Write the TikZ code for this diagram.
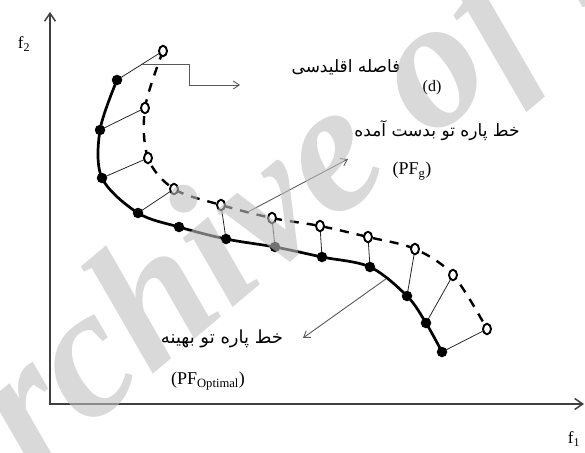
\documentclass[tikz,border=0pt]{standalone}
\usepackage{fontspec}
\setmainfont{Liberation Serif}
\newfontfamily\farsifont[Script=Arabic]{DejaVu Sans}
\TeXXeTstate=1
\usetikzlibrary{arrows.meta,calc,positioning,shapes.geometric}

\newcommand{\fatxt}[1]{{\farsifont\beginR #1\endR}}

\begin{document}
\begin{tikzpicture}[x=1pt,y=-1pt,
    optpt/.style={circle, fill=black, inner sep=0pt, minimum size=10.5pt},
    gotpt/.style={ellipse, draw=black, line width=1.9pt, fill=white, inner sep=0pt, minimum width=8pt, minimum height=10.5pt},
    link/.style={black!85, line width=0.8pt},
    callout/.style={black!65, line width=0.9pt, -{Straight Barb[length=6pt,width=8pt]}},
    fatext/.style={font=\farsifont\fontsize{17}{19}\selectfont},
    latext/.style={font=\fontsize{18}{20}\selectfont}]
    \useasboundingbox (0,0) rectangle (585,452);

    % Points of the optimal front (filled) and of the obtained front (open)
    \foreach \n/\x/\y in {1/117/80, 2/100/130, 3/102/178, 4/138/213, 5/179/227, 6/226/239,
                          7/275/247, 8/322/257, 9/370/267, 10/407/296, 11/426/323, 12/442/352}
        \coordinate (p\n) at (\x,\y);
    \foreach \n/\x/\y in {1/163/51, 2/145/108, 3/148/158, 4/174/189, 5/221/205, 6/272/218,
                          7/320/226, 8/368/237, 9/415/249, 10/453/275, 11/487/329}
        \coordinate (o\n) at (\x,\y);

    % Axes
    \coordinate (origin) at (50,404);
    \coordinate (ytip) at (50,12);
    \coordinate (xtip) at (584,404);
    \draw[black!75, line width=1.5pt, {Straight Barb[length=8pt,width=11pt]}-{Straight Barb[length=8pt,width=11pt]}]
        (ytip) -- (origin) -- (xtip);
    \node[font=\fontsize{17}{19}\selectfont] (f2) at (24,44) {f\textsubscript{2}};
    \node[font=\fontsize{17}{19}\selectfont] (f1) at (574,439) {f\textsubscript{1}};

    % Euclidean distances between the fronts
    \foreach \a/\b in {1/1, 2/2, 3/3, 4/4, 6/5, 7/6, 8/7, 9/8, 10/9, 11/10, 12/11}
        \draw[link] (p\a) -- (o\b);

    % The two fronts
    \draw[line width=2.7pt] plot[smooth, tension=0.55] coordinates {
        (p1) (p2) (p3) (p4) (p5) (p6) (p7) (p8) (p9) (p10) (p11) (p12)};
    \draw[line width=2.4pt, dash pattern=on 9pt off 8pt] plot[smooth, tension=0.55] coordinates {
        (o1) (o2) (o3) (o4) (o5) (o6) (o7) (o8) (o9) (o10) (o11)};

    \foreach \n in {1,...,12}
        \node[optpt] (P\n) at (p\n) {};
    \foreach \n in {1,...,11}
        \node[gotpt] (O\n) at (o\n) {};

    % Labels
    \node[fatext] (dist) at (346,67) {\fatxt{فاصله اقلیدسی}};
    \node[latext, font=\fontsize{16}{18}\selectfont] (dsym) at (432,88) {(d)};
    \node[fatext] (gotlbl) at (437,131) {\fatxt{خط پاره تو بدست آمده}};
    \node[latext] (pfg) at (412,171) {(PF\textsubscript{g})};
    \node[fatext, font=\farsifont\fontsize{18}{20}\selectfont] (optlbl) at (222,339) {\fatxt{خط پاره تو بهینه}};
    \node[latext] (pfopt) at (208,381) {(PF\textsubscript{Optimal})};

    % Callouts
    \coordinate (dstart) at ($(p1)!0.55!(o1)$);
    \coordinate (dend) at (240,85);
    \draw[callout] (dstart) -- ++(47,0) |- (dend);
    \coordinate (gstart) at ($(o5)!0.53!(o6)$);
    \coordinate (gend) at (348,159);
    \draw[callout] (gstart) -- (gend);
    \coordinate (ostart) at ($(p9)!0.42!(p10)$);
    \coordinate (oend) at (303,338);
    \draw[callout] (ostart) -- (oend);

    % Watermark
    \begin{scope}
        \clip (0,0) rectangle (585,452);
        \node[rotate=40, text=white!75!black, opacity=0.6, font=\fontsize{185}{185}\selectfont\bfseries\itshape]
            (mark) at (350,150) {Archive of SID};
    \end{scope}
\end{tikzpicture}
\end{document}
